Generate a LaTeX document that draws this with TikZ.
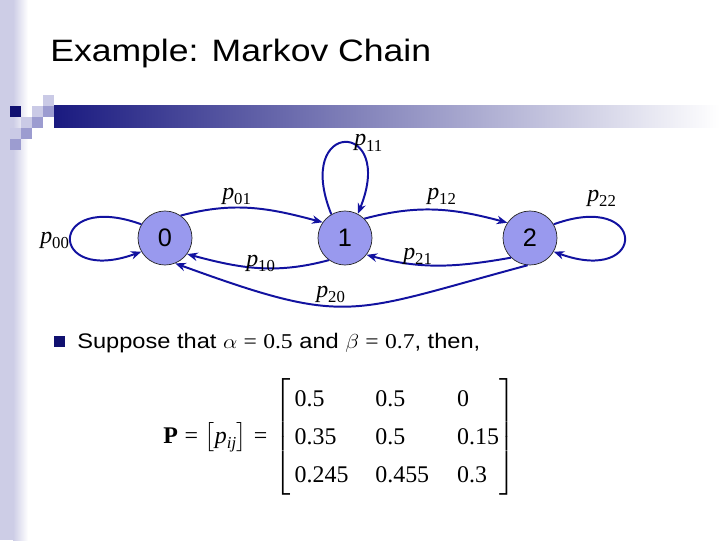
\documentclass[tikz,border=0pt]{standalone}
\usepackage{amsmath}
\usepackage{fontspec}
\setmainfont{Liberation Serif}
\setsansfont{Liberation Sans}
\usetikzlibrary{arrows.meta}
\definecolor{stateFill}{HTML}{9999EE}
\definecolor{edgeBlue}{HTML}{1212A0}
\definecolor{barNavy}{HTML}{1A1A80}
\definecolor{sqDark}{HTML}{101070}
\definecolor{sqMid}{HTML}{9C9CD0}
\definecolor{sqLight}{HTML}{CACAE6}
\definecolor{stripLav}{HTML}{CDCDE6}
\tikzset{
  state/.style={circle, draw=black!85, line width=0.5pt, fill=stateFill,
                minimum size=1.35cm, inner sep=0pt, font=\sffamily\fontsize{18}{20}\selectfont},
  trans/.style={-{Stealth[length=7.5pt, width=6pt]}, draw=edgeBlue, line width=1.4pt},
  prob/.style={anchor=base west, inner sep=0pt, font=\fontsize{17}{20}\selectfont},
  heading/.style={anchor=base west, inner sep=0pt, font=\sffamily\fontsize{22}{26}\selectfont},
  body/.style={anchor=base west, inner sep=0pt, font=\sffamily\fontsize{15}{18}\selectfont},
  bullet/.style={rectangle, fill=sqDark, minimum size=0.27cm, inner sep=0pt},
  matfont/.style={anchor=base west, inner sep=0pt, font=\fontsize{17}{27}\selectfont},
}
\newcommand{\wide}[2]{\scalebox{#1}[1]{#2}}
\newcommand{\pr}[1]{$\textit{p}_{\textrm{#1}}$}
\newcommand{\eq}{\mathrel{\textrm{=}}}

\begin{document}
\begin{tikzpicture}[x=0.025cm, y=0.025cm]
  % --- slide frame: side strip, squares, title bar ---
  \fill[white] (0,0) rectangle (720,540);
  \fill[stripLav] (0,0) rectangle (13,540);
  \shade[left color=stripLav, right color=white] (13,0) rectangle (28,540);
  \shade[left color=barNavy, right color=white] (54,412) rectangle (720,434);
  \fill[sqLight] (43,434) rectangle (54,445);
  \fill[sqDark]  (10,423) rectangle (21,434);
  \fill[sqLight] (32,423) rectangle (43,434);
  \fill[sqMid]   (43,423) rectangle (54,434);
  \fill[sqLight] (21,412) rectangle (32,423);
  \fill[sqMid]   (32,412) rectangle (43,423);
  \fill[sqLight] (10,401) rectangle (21,412);
  \fill[sqMid]   (21,401) rectangle (32,412);
  \fill[sqMid]   (10,390) rectangle (21,401);
  \node[heading] (title) at (50,478) {\wide{1.15}{Example: Markov Chain}};

  % --- states ---
  \node[state] (n0) at (165,302) {0};
  \node[state] (n1) at (345,302) {1};
  \node[state] (n2) at (530,302) {2};

  % --- self loops ---
  \draw[trans] (n0.150) to[out=160, in=200, looseness=9.4] (n0.210);
  \draw[trans] (n1.120) to[out=112, in=68, looseness=9.9] (n1.62);
  \draw[trans] (n2.30) to[out=20, in=-20, looseness=9.4] (n2.330);

  % --- transitions between states ---
  \draw[trans] (n0.55) to[out=15, in=165] (n1.145);
  \draw[trans] (n1.234) to[out=195, in=-15] (n0.324);
  \draw[trans] (n1.45) to[out=15, in=165] (n2.146);
  \draw[trans] (n2.226) to[out=190, in=-15] (n1.322);
  \draw[trans] (n2.265) to[out=195, in=-20, looseness=1.35] (n0.292);

  % --- transition probabilities ---
  \node[prob] (p00) at (40,297)  {\pr{00}};
  \node[prob] (p11) at (354,394) {\pr{11}};
  \node[prob] (p22) at (587,339) {\pr{22}};
  \node[prob] (p01) at (222,341) {\pr{01}};
  \node[prob] (p10) at (246,274) {\pr{10}};
  \node[prob] (p12) at (427,341) {\pr{12}};
  \node[prob] (p21) at (403,281) {\pr{21}};
  \node[prob] (p20) at (316,243) {\pr{20}};

  % --- bullet text and matrix ---
  \node[bullet] (blt) at (59.5,198.5) {};
  \node[body] (assume) at (77,192)
    {\wide{1.12}{Suppose that $\alpha\eq\textrm{0.5}$ and $\beta\eq\textrm{0.7}$, then,}};
  \node[matfont] (pdef) at (163,97)
    {$\textbf{P}\eq\bigl[\textit{p}_{\textit{ij}}\bigr]\eq$};
  \node[matfont] (pmat) at (274,97) {\setlength{\arraycolsep}{0pt}%
    $\left[\begin{array}{@{\hspace{3pt}}p{57.4pt}p{58.1pt}p{30pt}@{}}
      0.5 & 0.5 & 0\\
      0.35 & 0.5 & 0.15\\
      0.245 & 0.455 & 0.3
    \end{array}\right]$};
\end{tikzpicture}
\end{document}
